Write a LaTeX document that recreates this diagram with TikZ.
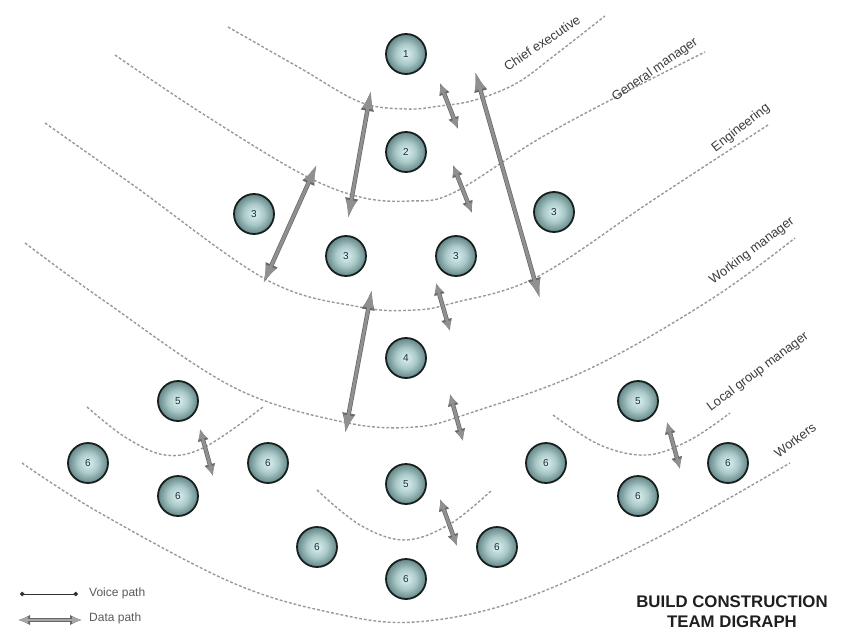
\documentclass[tikz,border=0pt]{standalone}
\usepackage{fontspec}
\setmainfont{Liberation Sans}
\usetikzlibrary{arrows.meta}
\definecolor{curvegray}{HTML}{989898}
\definecolor{agray}{HTML}{909090}
\definecolor{adark}{HTML}{676767}
\definecolor{labelcol}{HTML}{3C3C3C}
\definecolor{numcol}{HTML}{142C34}
\definecolor{ringcol}{HTML}{17201F}
\definecolor{ballA}{HTML}{DDF1F1}
\definecolor{ballB}{HTML}{A9C8C8}
\definecolor{ballC}{HTML}{648686}
\definecolor{ballD}{HTML}{2E4646}
\pgfdeclareradialshading{ballsh}{\pgfpoint{0bp}{0bp}}{color(0bp)=(ballA); color(13bp)=(ballB); color(25bp)=(ballC); color(31bp)=(ballD); color(35bp)=(ringcol); color(50bp)=(ringcol)}
\tikzset{
  person/.style={circle, minimum size=40pt, inner sep=0pt, shading=ballsh, draw=ringcol, line width=1.8pt, font=\fontsize{10}{10}\selectfont, text=numcol},
  curve/.style={draw=curvegray, line width=1.4pt, dash pattern=on 2.8pt off 2pt},
  lvl/.style={font=\fontsize{13}{13}\selectfont, text=labelcol, inner sep=0pt},
  bigarrow/.style={line width=3pt, draw=agray, {Latex[length=19pt,width=11pt]}-{Latex[length=19pt,width=11pt]},
    preaction={draw=adark, line width=4.4pt, {Latex[length=21pt,width=13.5pt]}-{Latex[length=21pt,width=13.5pt]}}},
  smallarrow/.style={line width=3pt, draw=agray, {Latex[length=10pt,width=9pt]}-{Latex[length=10pt,width=9pt]},
    preaction={draw=adark, line width=4.4pt, {Latex[length=12pt,width=11.5pt]}-{Latex[length=12pt,width=11.5pt]}}},
}
\begin{document}
\begin{tikzpicture}[x=1pt,y=-1pt]
\useasboundingbox (0,0) rectangle (845,631);
% level curves
\draw[curve] plot[smooth, tension=0.6] coordinates {(228,27) (300,68) (360,102) (406,109) (440,106) (475,100) (517,83) (555,55) (605,16)};
\draw[curve] plot[smooth, tension=0.6] coordinates {(115,55) (200,112) (300,173) (360,197) (410,201) (453,193) (537,140) (620,95) (705,52)};
\draw[curve] plot[smooth, tension=0.6] coordinates {(45,123) (133,185) (267,280) (360,307) (415,310) (453,303) (537,277) (653,200) (768,125)};
\draw[curve] plot[smooth, tension=0.6] coordinates {(25,243) (103,300) (233,387) (343,422) (415,427) (470,413) (587,370) (710,300) (795,238)};
\draw[curve] plot[smooth, tension=0.6] coordinates {(22,463) (100,513) (233,583) (333,613) (415,622) (520,600) (653,540) (790,463)};
\draw[curve] plot[smooth, tension=0.6] coordinates {(87,407) (125,437) (165,455) (205,447) (263,407)};
\draw[curve] plot[smooth, tension=0.6] coordinates {(317,490) (360,525) (405,540) (450,524) (492,490)};
\draw[curve] plot[smooth, tension=0.6] coordinates {(553,415) (600,445) (647,455) (690,440) (730,413)};
% level labels
\node[lvl, rotate=34] (lce) at (542,43) {Chief executive};
\node[lvl, rotate=35] (lgm) at (655,70) {General manager};
\node[lvl, rotate=38] (len) at (741,128) {Engineering};
\node[lvl, rotate=37] (lwm) at (752,251) {Working manager};
\node[lvl, rotate=37] (llg) at (758,372) {Local group manager};
\node[lvl, rotate=37] (lwk) at (795,440) {Workers};
% people
\node[person] (n1) at (406,54) {1};
\node[person] (n2) at (406,152) {2};
\node[person] (n3a) at (254,214) {3};
\node[person] (n3b) at (346,256) {3};
\node[person] (n3c) at (456,256) {3};
\node[person] (n3d) at (554,212) {3};
\node[person] (n4) at (406,358) {4};
\node[person] (n5a) at (178,401) {5};
\node[person] (n6a) at (88,463) {6};
\node[person] (n6b) at (178,496) {6};
\node[person] (n6c) at (268,463) {6};
\node[person] (n5b) at (406,484) {5};
\node[person] (n6d) at (317,547) {6};
\node[person] (n6e) at (497,547) {6};
\node[person] (n6f) at (406,579) {6};
\node[person] (n6g) at (546,463) {6};
\node[person] (n5c) at (638,401) {5};
\node[person] (n6h) at (638,496) {6};
\node[person] (n6i) at (728,463) {6};
% arrow end points
\coordinate (a1s) at (371,90);  \coordinate (a1e) at (348,219);
\coordinate (a2s) at (317,164); \coordinate (a2e) at (263,284);
\coordinate (a3s) at (475,71);  \coordinate (a3e) at (540,299);
\coordinate (a4s) at (440,83);  \coordinate (a4e) at (458,129);
\coordinate (a5s) at (453,165); \coordinate (a5e) at (472,213);
\coordinate (a6s) at (372,289); \coordinate (a6e) at (345,434);
\coordinate (a7s) at (436,283); \coordinate (a7e) at (450,331);
\coordinate (a8s) at (450,394); \coordinate (a8e) at (463,441);
\coordinate (a9s) at (440,499); \coordinate (a9e) at (457,546);
\coordinate (a10s) at (200,429); \coordinate (a10e) at (213,476);
\coordinate (a11s) at (667,422); \coordinate (a11e) at (680,469);
\draw[bigarrow] (a1s) -- (a1e);
\draw[bigarrow] (a2s) -- (a2e);
\draw[bigarrow] (a3s) -- (a3e);
\draw[bigarrow] (a6s) -- (a6e);
\draw[smallarrow] (a4s) -- (a4e);
\draw[smallarrow] (a5s) -- (a5e);
\draw[smallarrow] (a7s) -- (a7e);
\draw[smallarrow] (a8s) -- (a8e);
\draw[smallarrow] (a9s) -- (a9e);
\draw[smallarrow] (a10s) -- (a10e);
\draw[smallarrow] (a11s) -- (a11e);
% legend
\coordinate (v1) at (20,594); \coordinate (v2) at (78,594);
\draw[line width=0.9pt, draw=black!80, {Circle[length=4.5pt]}-{Circle[length=4.5pt]}] (v1) -- (v2);
\node[anchor=west, inner sep=0pt, text=black!65, font=\fontsize{12}{12}\selectfont] (vt) at (89,593) {Voice path};
\coordinate (d1) at (18,620); \coordinate (d2) at (82,620);
\draw[line width=2.6pt, draw=agray!80, {Latex[length=10pt,width=8pt]}-{Latex[length=10pt,width=8pt]},
  preaction={draw=adark, line width=4.2pt, {Latex[length=12pt,width=10.5pt]}-{Latex[length=12pt,width=10.5pt]}}] (d1) -- (d2);
\node[anchor=west, inner sep=0pt, text=black!65, font=\fontsize{12}{12}\selectfont] (dt) at (89,618) {Data path};
% title
\node[align=center, inner sep=0pt, font=\bfseries\fontsize{16.8}{20}\selectfont, text=black!88] (title) at (732,612) {BUILD CONSTRUCTION\\TEAM DIGRAPH};
\end{tikzpicture}
\end{document}
